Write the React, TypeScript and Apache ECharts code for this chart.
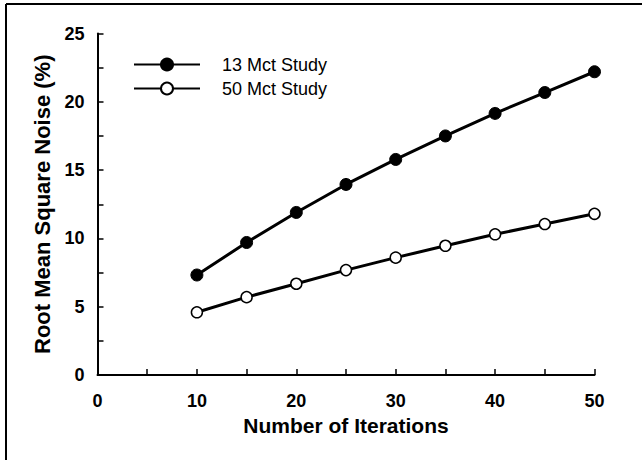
import React, { useEffect, useRef } from "react";
import * as echarts from "echarts";

const iterations = [10, 15, 20, 25, 30, 35, 40, 45, 50];
const study13 = [7.32, 9.7, 11.9, 13.95, 15.78, 17.5, 19.15, 20.68, 22.2];
const study50 = [4.59, 5.7, 6.68, 7.68, 8.59, 9.46, 10.3, 11.05, 11.8];
const seriesNames = ["13 Mct Study", "50 Mct Study"];
const xTitle = "Number of Iterations";
const yTitle = "Root Mean Square Noise (%)";

const FONT = "'Liberation Sans', Arial, Helvetica, sans-serif";

export default function App() {
  const ref = useRef<HTMLDivElement>(null);
  useEffect(() => {
    if (!ref.current) return;
    const chart = echarts.init(ref.current, undefined, { renderer: "svg" });
    const toPairs = (vals: number[]) => iterations.map((x, i) => [x, vals[i]]);
    chart.setOption({
      animation: false,
      backgroundColor: "#ffffff",
      grid: { left: 97.5, right: 47.5, top: 33.5, bottom: 85, outerBoundsMode: "none" },
      graphic: [
        { type: "line", shape: { x1: 6, y1: 4, x2: 642, y2: 4 }, style: { stroke: "#000", lineWidth: 2 } },
        { type: "line", shape: { x1: 6, y1: 4, x2: 6, y2: 460 }, style: { stroke: "#000", lineWidth: 2 } },
      ],
      legend: {
        orient: "vertical",
        left: 133,
        top: 55.5,
        itemWidth: 66,
        itemHeight: 15,
        itemGap: 6,
        padding: 0,
        data: seriesNames,
        textStyle: { fontFamily: FONT, fontSize: 18, color: "#000", padding: [0, 0, 0, 17] },
      },
      xAxis: {
        type: "value",
        min: 0,
        max: 50,
        interval: 5,
        name: xTitle,
        nameLocation: "middle",
        nameGap: 39,
        nameTextStyle: { fontFamily: FONT, fontSize: 21, fontWeight: "bold", color: "#000" },
        axisLine: { lineStyle: { color: "#000", width: 2 } },
        axisTick: { inside: true, length: 6, lineStyle: { color: "#000", width: 1.5 } },
        axisLabel: {
          margin: 17,
          fontFamily: FONT,
          fontSize: 18,
          fontWeight: "bold",
          color: "#000",
          formatter: (v: number) => (v % 10 === 0 ? String(v) : ""),
        },
        splitLine: { show: false },
      },
      yAxis: {
        type: "value",
        min: 0,
        max: 25,
        interval: 2.5,
        name: yTitle,
        nameLocation: "middle",
        nameGap: 43,
        nameTextStyle: { fontFamily: FONT, fontSize: 22, fontWeight: "bold", color: "#000" },
        axisLine: { show: true, lineStyle: { color: "#000", width: 2 } },
        axisTick: { show: true, inside: true, length: 6, lineStyle: { color: "#000", width: 1.5 } },
        axisLabel: {
          margin: 13,
          fontFamily: FONT,
          fontSize: 18,
          fontWeight: "bold",
          color: "#000",
          formatter: (v: number) => (v % 5 === 0 ? String(v) : ""),
        },
        splitLine: { show: false },
      },
      series: [
        {
          name: seriesNames[0],
          type: "line",
          data: toPairs(study13),
          symbol: "circle",
          symbolSize: 12,
          lineStyle: { color: "#000", width: 3 },
          itemStyle: { color: "#000", borderColor: "#000", borderWidth: 1 },
        },
        {
          name: seriesNames[1],
          type: "line",
          data: toPairs(study50),
          symbol: "circle",
          symbolSize: 11,
          lineStyle: { color: "#000", width: 3 },
          itemStyle: { color: "#fff", borderColor: "#000", borderWidth: 1.5 },
        },
      ],
    });
    return () => chart.dispose();
  }, []);
  return <div ref={ref} style={{ width: 642, height: 460, position: "absolute", left: 0, top: 0 }} />;
}
